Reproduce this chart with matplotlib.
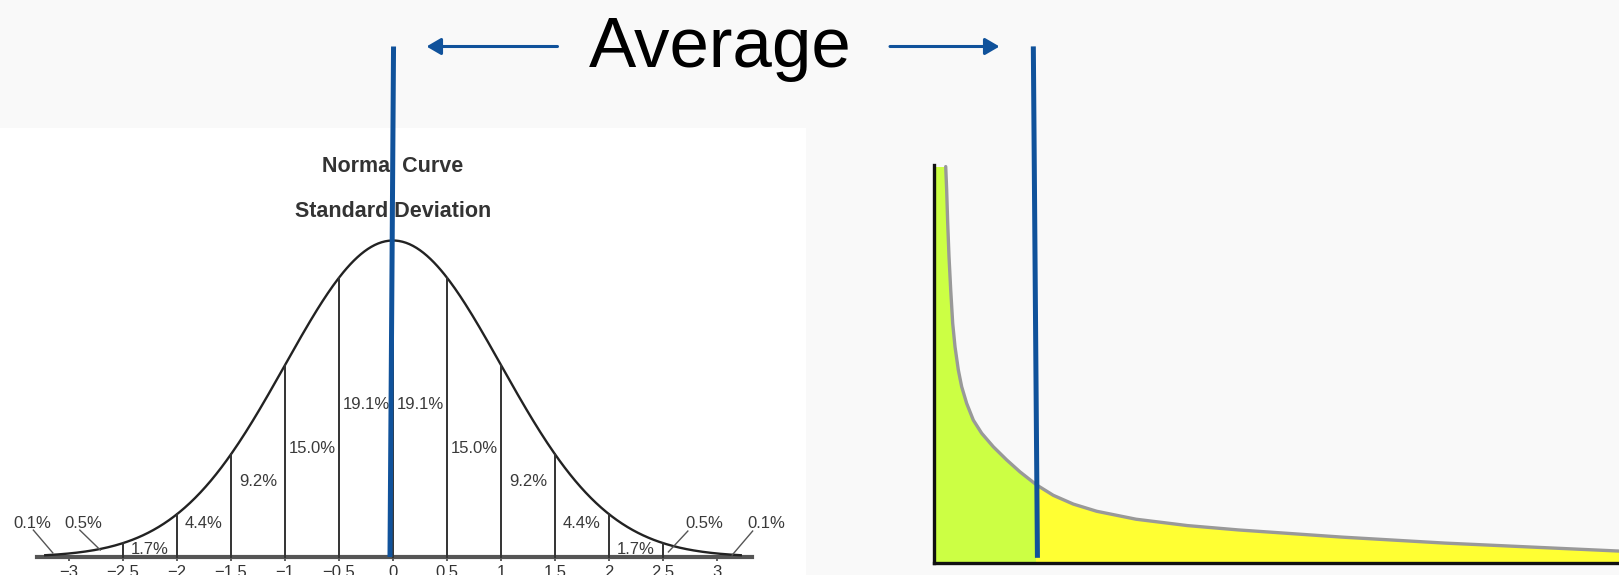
import numpy as np
import matplotlib
matplotlib.use("Agg")
import matplotlib.pyplot as plt
from matplotlib.patches import Rectangle, FancyArrowPatch

# ---------------- data ----------------
# Left panel: standard normal curve, band edges and percentages
sd_ticks = [-3, -2.5, -2, -1.5, -1, -0.5, 0, 0.5, 1, 1.5, 2, 2.5, 3]
sd_tick_labels = ["\u22123", "\u22122.5", "\u22122", "\u22121.5", "\u22121", "\u22120.5",
                  "0", "0.5", "1", "1.5", "2", "2.5", "3"]
band_edges = [-2.5, -2, -1.5, -1, -0.5, 0, 0.5, 1, 1.5, 2, 2.5]
band_pcts = [1.7, 4.4, 9.2, 15.0, 19.1, 19.1, 15.0, 9.2, 4.4, 1.7]
tail_pcts = [0.1, 0.5, 0.5, 0.1]
normal_mean = 0.0

# Right panel: skewed (long-tail) distribution
skew_x = [1.71, 1.85, 2.0, 2.19, 2.44, 2.73, 3.07, 3.55, 4.04, 4.77, 5.74, 6.96, 8.66,
          10.61, 12.55, 14.99, 17.42, 20.34, 23.75, 29.5, 37.0, 44.5, 59.6, 74.6, 89.8, 100.0]
skew_y = [99.6, 93.7, 85.4, 77.0, 68.6, 60.2, 54.3, 48.5, 44.3, 40.1, 35.9, 32.6, 29.2,
          25.9, 22.9, 19.6, 17.0, 14.8, 13.0, 11.0, 9.4, 8.3, 6.5, 5.0, 3.8, 3.0]
skew_mean = 14.8

title_lines = ["Normal Curve", "Standard Deviation"]
avg_label = "Average"

# ---------------- styling / layout ----------------
W, H = 1619, 575
BLUE = "#10529b"
TXT = "#3a3a3a"
plt.rcParams["font.family"] = ["Liberation Sans", "DejaVu Sans"]

fig = plt.figure(figsize=(W / 100, H / 100), dpi=100)
fig.patch.set_facecolor("#f9f9f9")

# ---- left panel ----
x0px, unit = 393, 108
base_px, peak_px = 557, 316.5
axL = fig.add_axes([0, 0, 806 / W, (H - 128) / H])
axL.set_facecolor("white")
axL.set_xlim(-x0px / unit, (806 - x0px) / unit)
axL.set_ylim((base_px - H) / peak_px, (base_px - 128) / peak_px)
for s in ["top", "left", "right"]:
    axL.spines[s].set_visible(False)
axL.spines["bottom"].set_position(("data", 0))
axL.spines["bottom"].set_bounds(-3.3, 3.32)
axL.spines["bottom"].set_linewidth(3.0)
axL.spines["bottom"].set_color("#555555")
axL.set_yticks([])
axL.set_xticks(sd_ticks, sd_tick_labels)
axL.tick_params(axis="x", direction="out", length=3, width=1.2, color="#444444",
                pad=3.0, labelsize=12, labelcolor="#333333")

xc = np.linspace(-3.22, 3.22, 400)
yc = np.exp(-(xc - normal_mean) ** 2 / 2)
axL.plot(xc, yc, color="#222222", lw=1.7, zorder=3)

for e in band_edges:
    axL.plot([e, e], [0, np.exp(-(e - normal_mean) ** 2 / 2)], color="#333333",
             lw=1.4, zorder=3)

inner_label_y = [0.0095, 0.0916, 0.224, 0.329, 0.468, 0.468, 0.329, 0.224, 0.0916, 0.0095]
for i, p in enumerate(band_pcts):
    cx = (band_edges[i] + band_edges[i + 1]) / 2
    axL.text(cx, inner_label_y[i], f"{p:.1f}%", ha="center", va="baseline",
             fontsize=12, color=TXT, zorder=4)

tail_text_x = [-3.34, -2.87, 2.88, 3.46]
tail_text_y = [0.0916, 0.0916, 0.0916, 0.0916]
tail_leaders = [((-3.33, 0.085), (-3.15, 0.013)), ((-2.90, 0.085), (-2.71, 0.022)),
                ((2.73, 0.082), (2.55, 0.016)), ((3.33, 0.082), (3.14, 0.006))]
for p, tx, ty, (a, b) in zip(tail_pcts, tail_text_x, tail_text_y, tail_leaders):
    axL.text(tx, ty, f"{p:.1f}%", ha="center", va="baseline", fontsize=12,
             color=TXT, zorder=4)
    axL.plot([a[0], b[0]], [a[1], b[1]], color="#555555", lw=1.0, zorder=3)

axL.text(0, 1.216, title_lines[0], ha="center", va="baseline", fontsize=15.5,
         fontweight="bold", color="#333333", zorder=4)
axL.text(0, 1.074, title_lines[1], ha="center", va="baseline", fontsize=15.5,
         fontweight="bold", color="#333333", zorder=4)

# blue average line (left)
axL.plot([normal_mean - 0.028, normal_mean + 0.005], [0, (base_px - 46.5) / peak_px],
         color=BLUE, lw=3.6, zorder=6, clip_on=False, solid_capstyle="butt")

# ---- right panel ----
axR = fig.add_axes([934 / W, (H - 563) / H, 685 / W, 398 / H])
axR.set_facecolor("none")
axR.set_xlim(0, 100)
axR.set_ylim(0, 100)
for s in ["top", "right"]:
    axR.spines[s].set_visible(False)
for s in ["left", "bottom"]:
    axR.spines[s].set_linewidth(2.4)
    axR.spines[s].set_color("#111111")
    axR.spines[s].set_zorder(5)
axR.set_xticks([])
axR.set_yticks([])

fx = [0.0] + skew_x
fy = [skew_y[0]] + skew_y
axR.fill_between(fx, fy, 0, color="#ffff33", lw=0, zorder=1)
green = axR.fill_between(fx, fy, 0, color="#ccff44", lw=0, zorder=2)
green.set_clip_path(Rectangle((0, 0), skew_mean, 200, transform=axR.transData))
axR.plot(skew_x, skew_y, color="#999999", lw=2.4, zorder=3, clip_on=False,
         solid_joinstyle="round", solid_capstyle="round")

axR.plot([skew_mean - 0.3, skew_mean + 0.3], [129.8, 1.3], color=BLUE, lw=3.6,
         zorder=6, clip_on=False, solid_capstyle="butt")

# ---- overlay: "Average" and arrows ----
axT = fig.add_axes([0, 0, 1, 1])
axT.set_xlim(0, W)
axT.set_ylim(H, 0)
axT.axis("off")
axT.patch.set_visible(False)
axT.text(720, 67, avg_label, ha="center", va="baseline", fontsize=51, color="black")
for (xa, xb) in [(557.5, 426.5), (890, 999.5)]:
    arr = FancyArrowPatch((xa, 46.5), (xb, 46.5), arrowstyle="-|>,head_length=0.72,head_width=0.42",
                          mutation_scale=12, color=BLUE, lw=2.2, shrinkA=0, shrinkB=0)
    axT.add_patch(arr)

fig.savefig("out.png", dpi=100, facecolor=fig.get_facecolor())
